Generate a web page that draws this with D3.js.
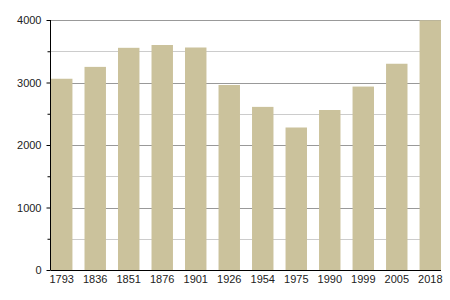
<!DOCTYPE html>
<html><head><meta charset="utf-8">
<script src="https://cdn.jsdelivr.net/npm/d3@7"></script>
<style>body{margin:0;background:#fff}svg{display:block}</style>
</head><body>
<svg id="c" width="450" height="300"></svg>
<script>
const years = ["1793","1836","1851","1876","1901","1926","1954","1975","1990","1999","2005","2018"];
const population = [3060, 3250, 3555, 3600, 3560, 2960, 2610, 2280, 2560, 2935, 3300, 3995];
const majorTicks = [0, 1000, 2000, 3000, 4000];
const minorTicks = [500, 1500, 2500, 3500];

(function () {
const svg = d3.select("#c");
const mLeft = 50.5, mRight = 441, mTop = 20, mBottom = 270;
const x = d3.scaleBand().domain(years).range([mLeft + 0.5, mRight]).paddingInner(0.36).paddingOuter(0);
const y = d3.scaleLinear().domain([0, 4000]).range([mBottom, mTop]);

// grid
svg.append("g").selectAll("line").data(minorTicks).join("line")
  .attr("x1", mLeft).attr("x2", mRight)
  .attr("y1", d => Math.round(y(d)) + 0.5).attr("y2", d => Math.round(y(d)) + 0.5)
  .attr("stroke", "#cccccc").attr("stroke-width", 1);
svg.append("g").selectAll("line").data(majorTicks.filter(d => d > 0)).join("line")
  .attr("x1", mLeft).attr("x2", mRight)
  .attr("y1", d => Math.round(y(d)) + 0.5).attr("y2", d => Math.round(y(d)) + 0.5)
  .attr("stroke", "#999999").attr("stroke-width", 1);

// bars
svg.append("g").selectAll("rect").data(population).join("rect")
  .attr("x", (d, i) => x(years[i]))
  .attr("width", x.bandwidth())
  .attr("y", d => y(d))
  .attr("height", d => y(0) - y(d))
  .attr("fill", "#cbc29c");

// y axis
const yAxis = d3.axisLeft(y).tickValues(majorTicks).tickSize(4).tickFormat(d3.format("d"));
const gy = svg.append("g").attr("transform", `translate(${mLeft},0)`).call(yAxis);
gy.select(".domain").attr("stroke", "#000").attr("d", `M0,${mTop}V${mBottom}`);
gy.selectAll(".tick line").attr("stroke", "#000");
gy.selectAll(".tick text").attr("x", -9).attr("font-family", "Liberation Sans, Arial, sans-serif").attr("font-size", 11).attr("fill", "#222");
const yMinor = d3.axisLeft(y).tickValues(minorTicks).tickSize(3).tickFormat("");
const gm = svg.append("g").attr("transform", `translate(${mLeft},0)`).call(yMinor);
gm.select(".domain").remove();
gm.selectAll(".tick line").attr("stroke", "#000");

// x axis
const xAxis = d3.axisBottom(x).tickSize(0).tickPadding(5);
const gx = svg.append("g").attr("transform", `translate(0,${mBottom + 0.5})`).call(xAxis);
gx.select(".domain").attr("stroke", "#000").attr("d", `M${mLeft},0H${mRight}`);
gx.selectAll(".tick text").attr("font-family", "Liberation Sans, Arial, sans-serif").attr("font-size", 11).attr("fill", "#222");
})();
</script>
</body></html>
